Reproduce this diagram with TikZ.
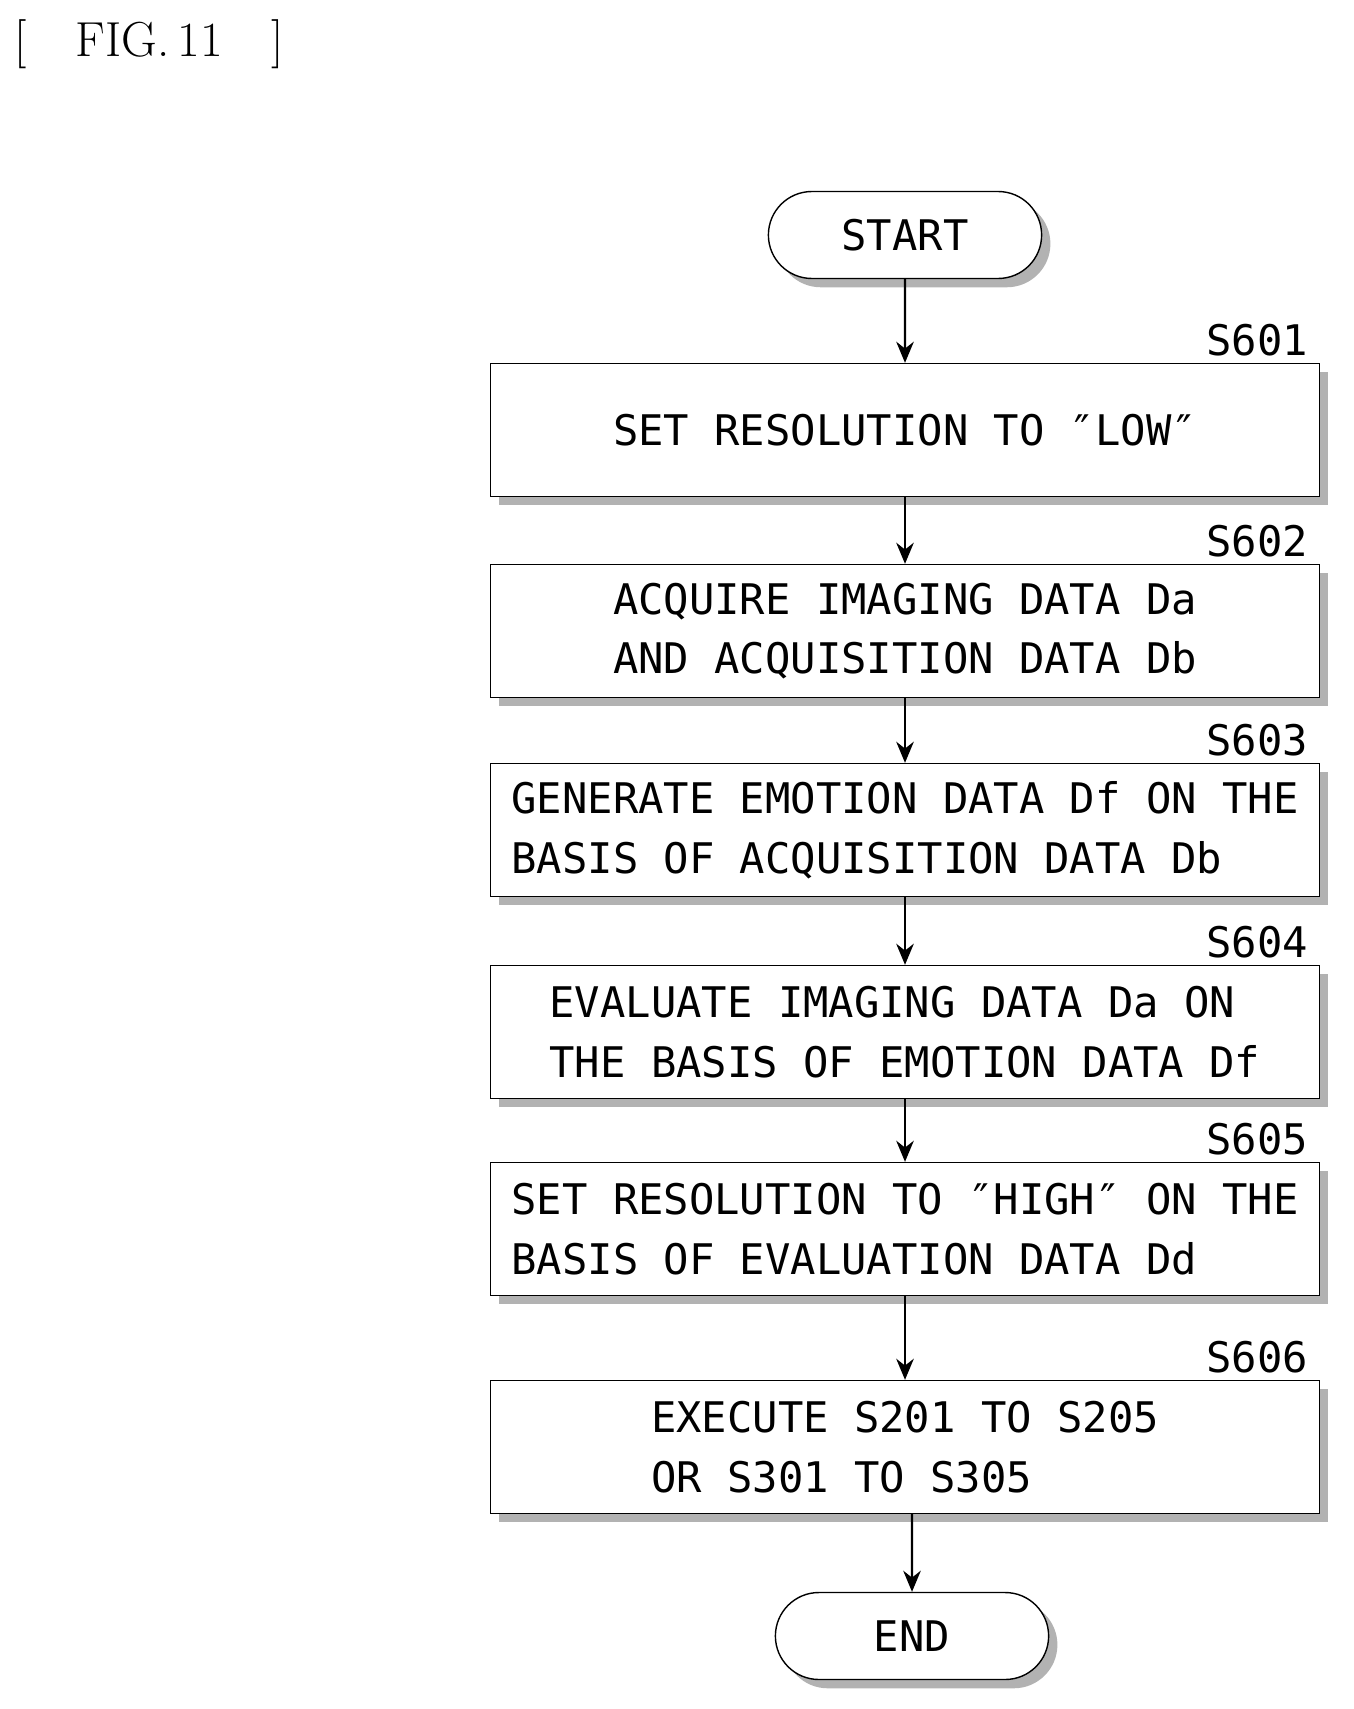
\documentclass[tikz,border=0pt]{standalone}
\usepackage{fontspec}
\setmonofont{DejaVu Sans Mono}
\usetikzlibrary{shapes.misc,arrows.meta,shadows}

\begin{document}
\begin{tikzpicture}[x=0.02cm,y=-0.02cm,
  flow/.style={font=\ttfamily\fontsize{24}{34}\selectfont},
  procbox/.style={flow, draw, thick, fill=white, align=left,
    minimum width=16.58cm, minimum height=2.66cm, inner sep=0pt,
    drop shadow={shadow xshift=5pt, shadow yshift=-5pt, fill=gray!60, opacity=1}},
  term/.style={flow, draw, thick, fill=white, rounded rectangle,
    minimum width=5.7cm, minimum height=1.74cm,
    drop shadow={shadow xshift=5pt, shadow yshift=-5pt, fill=gray!60, opacity=1}},
  tag/.style={flow, anchor=south east, inner sep=0pt},
  arr/.style={line width=1.2pt, -{Stealth[length=12pt,width=10pt]}}]
  % page
  \useasboundingbox (0,0) rectangle (1353,1709);
  \node[anchor=west, font=\fontsize{28}{30}\selectfont] (fig) at (8,44) {[\quad FIG.\,11\quad ]};

  % terminals and steps
  \node[term] (start) at (905,235) {START};
  \node[procbox] (s601) at (905,430) {SET RESOLUTION TO ″LOW″};
  \node[procbox] (s602) at (905,631) {ACQUIRE IMAGING DATA Da\\AND ACQUISITION DATA Db};
  \node[procbox] (s603) at (905,830) {GENERATE EMOTION DATA Df ON THE\\BASIS OF ACQUISITION DATA Db};
  \node[procbox] (s604) at (905,1032) {EVALUATE IMAGING DATA Da ON\\THE BASIS OF EMOTION DATA Df};
  \node[procbox] (s605) at (905,1229) {SET RESOLUTION TO ″HIGH″ ON THE\\BASIS OF EVALUATION DATA Dd};
  \node[procbox] (s606) at (905,1447) {EXECUTE S201 TO S205\\OR S301 TO S305};
  \node[term] (end) at (912,1636) {END};

  % step numbers
  \foreach \s/\t in {s601/S601,s602/S602,s603/S603,s604/S604,s605/S605,s606/S606}
    \node[tag] (\s-tag) at ([xshift=-0.24cm,yshift=0.12cm]\s.north east) {\t};

  % connectors
  \foreach \a/\b in {start/s601,s601/s602,s602/s603,s603/s604,s604/s605,s605/s606}
    \draw[arr] (\a) -- (\b);
  \draw[arr] (s606.south -| end) -- (end);
\end{tikzpicture}
\end{document}
